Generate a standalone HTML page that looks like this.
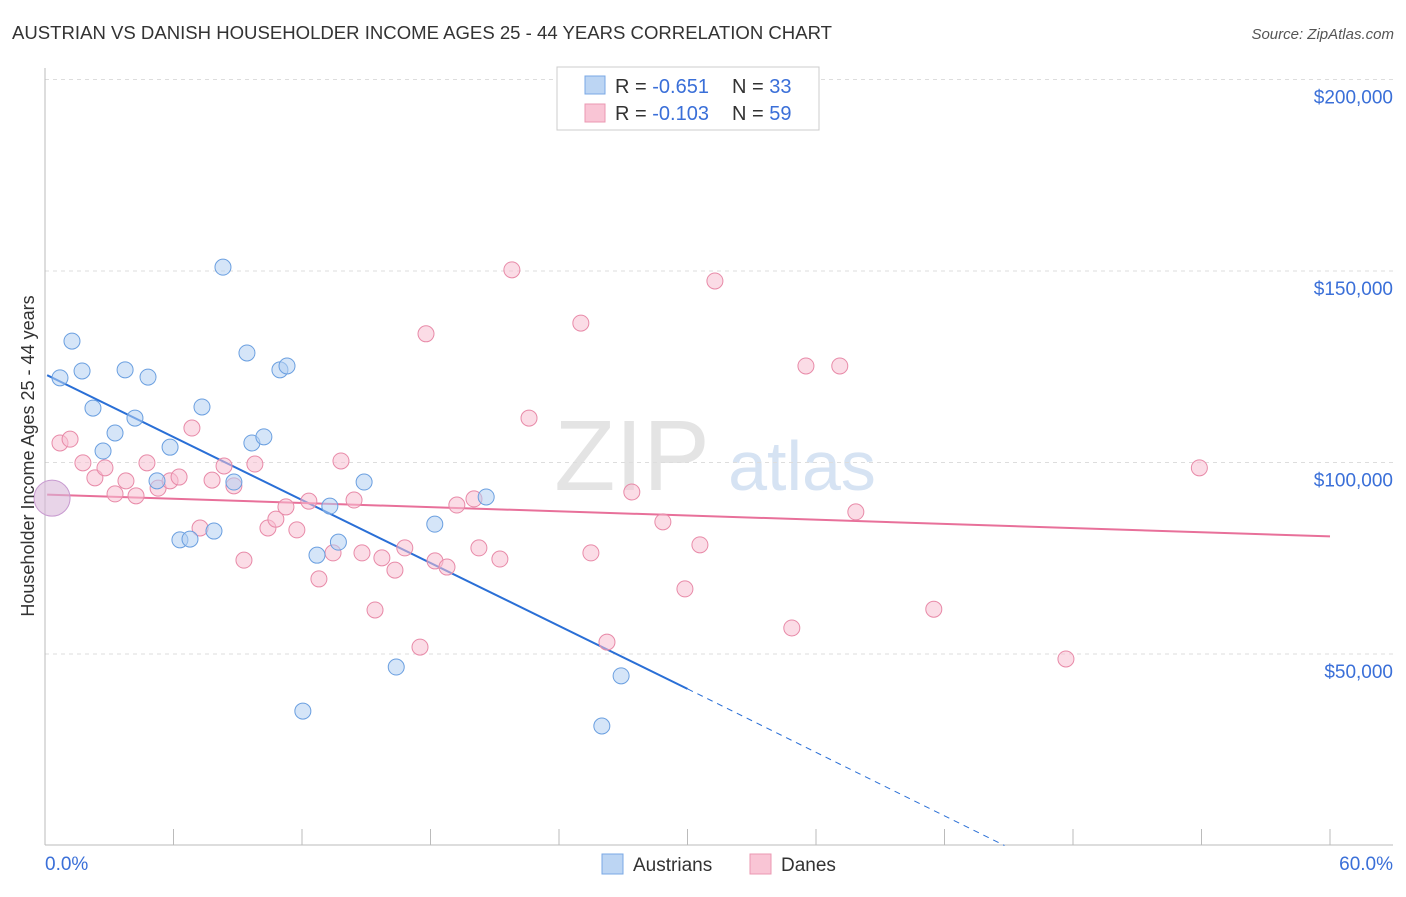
<!DOCTYPE html>
<html><head><meta charset="utf-8"><style>
body{margin:0;background:#fff;font-family:"Liberation Sans",sans-serif}
svg text{font-family:"Liberation Sans",sans-serif}
</style></head><body>
<svg id="chart" width="1406" height="892">
<text x="12" y="39" font-size="18" fill="#333" textLength="820" lengthAdjust="spacingAndGlyphs">AUSTRIAN VS DANISH HOUSEHOLDER INCOME AGES 25 - 44 YEARS CORRELATION CHART</text>
<text x="1394" y="39" font-size="15" fill="#555" text-anchor="end" font-style="italic">Source: ZipAtlas.com</text>
<text x="632" y="490" font-size="100" fill="#e4e4e4" font-family="Liberation Serif" text-anchor="middle">ZIP</text>
<text x="802" y="490" font-size="70" fill="#d6e3f3" text-anchor="middle">atlas</text>
<g id="grid"></g><g id="axes"></g><g id="trend"></g><g id="points"></g>
<text transform="translate(34,456) rotate(-90)" font-size="18" fill="#333" text-anchor="middle">Householder Income Ages 25 - 44 years</text>
<g>
<rect x="557" y="67" width="262" height="63" fill="#fff" stroke="#ccc"/>
<rect x="585" y="76" width="20" height="18" fill="#bcd5f3" stroke="#7aa8e4"/>
<rect x="585" y="104" width="20" height="18" fill="#f9c5d5" stroke="#eb98b2"/>
<text x="615" y="93" font-size="20" fill="#333">R = <tspan fill="#3a6fd8">-0.651</tspan></text>
<text x="732" y="93" font-size="20" fill="#333">N = <tspan fill="#3a6fd8">33</tspan></text>
<text x="615" y="120" font-size="20" fill="#333">R = <tspan fill="#3a6fd8">-0.103</tspan></text>
<text x="732" y="120" font-size="20" fill="#333">N = <tspan fill="#3a6fd8">59</tspan></text>
</g>
<g>
<rect x="602" y="854" width="21" height="20" fill="#bcd5f3" stroke="#7aa8e4"/>
<text x="633" y="871" font-size="19" fill="#333">Austrians</text>
<rect x="750" y="854" width="21" height="20" fill="#f9c5d5" stroke="#eb98b2"/>
<text x="781" y="871" font-size="19" fill="#333">Danes</text>
</g>
</svg>
<script>
const yTicks=[50,100,150,200];
const yTickLabels=["$50,000","$100,000","$150,000","$200,000"];
const xTicks=[0,6,12,18,24,30,36,42,48,54,60];
const austX=[0.7,1.26,1.73,2.24,2.71,3.27,3.74,4.2,4.81,5.23,5.84,6.3,6.77,7.33,7.89,8.31,9.43,9.66,10.22,10.97,11.3,12.04,12.7,13.3,13.7,14.9,16.4,18.2,20.6,26.0,26.9,8.82];
const austY=[122.1,131.7,123.9,114.2,103.0,107.7,124.2,111.6,122.3,95.2,104.0,79.8,80.0,114.5,82.1,151.0,128.6,105.1,106.7,124.2,125.2,35.1,75.8,88.6,79.2,94.9,46.6,83.9,91.0,31.2,44.3,94.9];
const daneX=[0.7,1.17,1.77,2.33,2.8,3.27,3.78,4.25,4.76,5.28,5.84,6.26,6.86,7.24,7.8,8.36,8.82,9.29,9.8,10.41,10.78,11.25,11.76,12.32,12.79,13.45,13.82,14.43,14.8,15.41,15.73,16.34,16.8,17.51,17.79,18.21,18.77,19.23,20.03,20.26,21.24,21.8,22.6,25.02,25.49,26.24,27.4,28.85,29.88,30.58,31.28,34.87,35.53,37.11,37.86,41.5,47.67,53.9];
const daneY=[105.1,106.1,99.9,96.0,98.6,91.8,95.2,91.3,99.9,93.3,95.2,96.2,109.0,82.9,95.4,99.1,93.9,74.5,99.6,82.9,85.2,88.4,82.4,89.9,69.6,76.4,100.4,90.2,76.4,61.5,75.1,71.9,77.7,51.8,133.6,74.3,72.7,88.9,90.5,77.7,74.8,150.3,111.6,136.4,76.4,53.1,92.3,84.5,67.0,78.5,147.4,56.8,125.2,125.2,87.1,61.7,48.7,98.6];
const bigPoint=[0.33,90.7];
const austTrend=[[0.1,122.8],[30,40.9],[44.8,0]];
const daneTrend=[[0.1,91.6],[60,80.7]];
const NS="http://www.w3.org/2000/svg";
const X=v=>45+v*1285/60, Y=v=>654-(v-50)*3.83;
function mk(tag,attrs,parent){const e=document.createElementNS(NS,tag);for(const k in attrs)e.setAttribute(k,attrs[k]);document.getElementById(parent).appendChild(e);return e;}
yTicks.forEach((t,i)=>{
 const l=mk('line',{x1:45,x2:1393,y1:Y(t),y2:Y(t),stroke:'#ddd','stroke-dasharray':'4,4'},'grid');
 
 
 const tx=mk('text',{x:1393,y:Y(t)+24,'font-size':19,fill:'#3a6fd8','text-anchor':'end'},'grid');
 tx.textContent=yTickLabels[i];
 
 
});
const ax=mk('line',{x1:45,x2:45,y1:68,y2:845,stroke:'#bbb'},'axes');


const bx=mk('line',{x1:45,x2:1393,y1:845,y2:845,stroke:'#bbb'},'axes');


xTicks.forEach(t=>{
 const l=mk('line',{x1:X(t),x2:X(t),y1:829,y2:845,stroke:'#bbb'},'axes');
 
 
});
[[0,"0.0%",'start',45],[60,"60.0%",'end',1393]].forEach(a=>{
 const t=mk('text',{x:a[3],y:870,'font-size':19,fill:'#3a6fd8','text-anchor':a[2]},'axes');
 t.textContent=a[1];
 
 
});
function dots(xs,ys,fill,stroke,name){xs.forEach((x,i)=>{
 const c=mk('circle',{cx:X(x),cy:Y(ys[i]),r:8,fill:fill,'fill-opacity':0.55,stroke:stroke,'stroke-width':1},'points');
 
 
});}
dots(daneX,daneY,'#f7bfd1','#e88aa8','dane-point');
dots(austX,austY,'#b3d0f3','#6a9fe0','austrian-point');
const bp=mk('circle',{cx:X(bigPoint[0]),cy:Y(bigPoint[1]),r:18,fill:'#d8b8d8','fill-opacity':0.6,stroke:'#c89ad0'},'points');


const at1=mk('line',{x1:X(austTrend[0][0]),y1:Y(austTrend[0][1]),x2:X(austTrend[1][0]),y2:Y(austTrend[1][1]),stroke:'#2a6fd6','stroke-width':2},'trend');


const at2=mk('line',{x1:X(austTrend[1][0]),y1:Y(austTrend[1][1]),x2:X(austTrend[2][0]),y2:Y(austTrend[2][1]),stroke:'#2a6fd6','stroke-width':1,'stroke-dasharray':'6,5'},'trend');


const dt=mk('line',{x1:X(daneTrend[0][0]),y1:Y(daneTrend[0][1]),x2:X(daneTrend[1][0]),y2:Y(daneTrend[1][1]),stroke:'#e8709a','stroke-width':2},'trend');


</script>
</body></html>
